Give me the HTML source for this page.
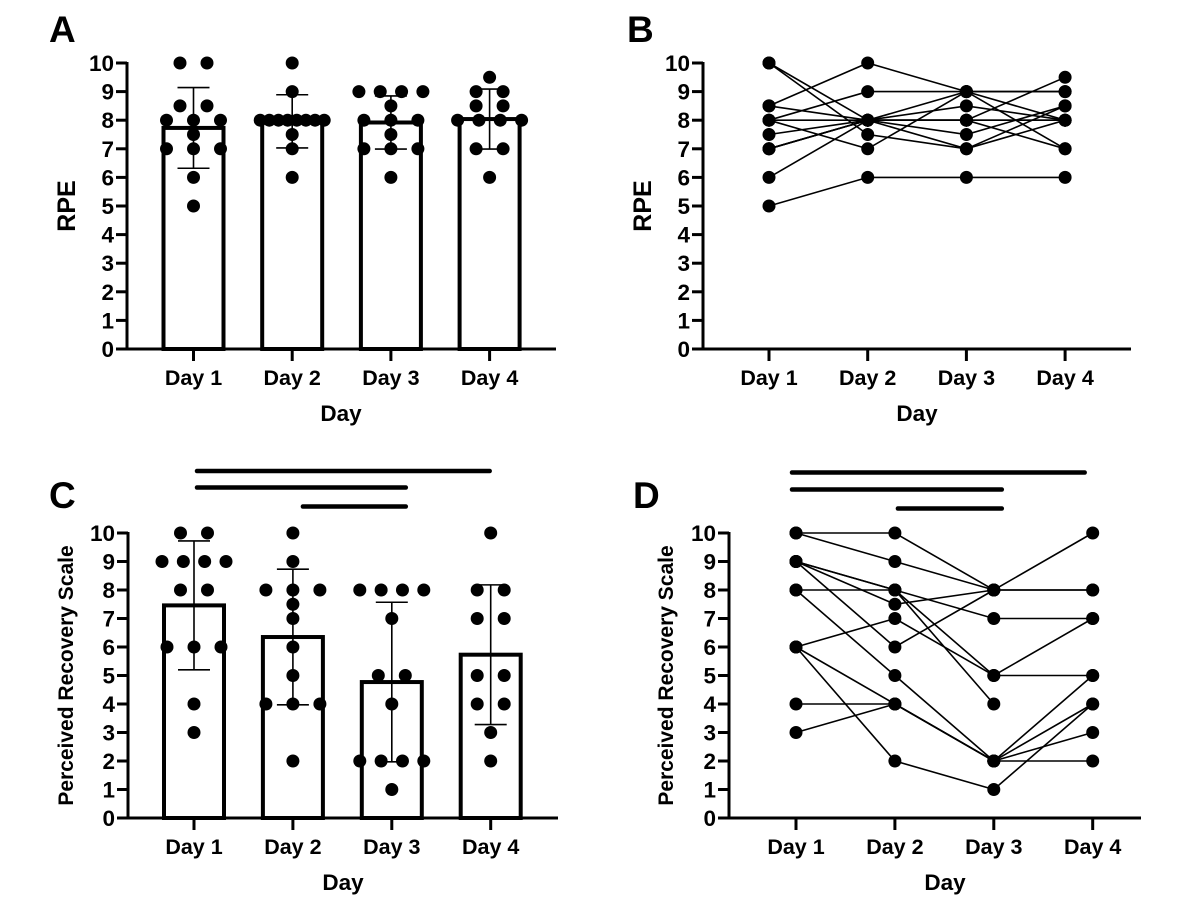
<!DOCTYPE html>
<html><head><meta charset="utf-8"><style>
html,body{margin:0;padding:0;background:#fff;}
svg{display:block;font-family:"Liberation Sans",Arial,sans-serif;font-weight:bold;}
</style></head><body>
<svg id="fig" width="1191" height="908" viewBox="0 0 1191 908"></svg>
<script>
const categories = ["Day 1","Day 2","Day 3","Day 4"];
const yTicks = [0,1,2,3,4,5,6,7,8,9,10];
// Panel A (RPE bar + points)
const rpeMeans = [7.73, 7.96, 7.92, 8.04];
const rpeSD = [1.41, 0.93, 0.93, 1.05];
const rpeD1 = [10,10,8.5,8.5,8,8,8,7.5,7,7,7,6,5];
const rpeD2 = [10,9,8,8,8,8,8,8,8,8,7.5,7,6];
const rpeD3 = [9,9,9,9,8.5,8,8,8,7.5,7,7,7,6];
const rpeD4 = [9.5,9,9,8.5,8.5,8,8,8,8,7,7,6];
// Panel B (RPE per subject across days)
const rpeSubjects = [
 [5,6,6,6],[10,7.5,7,8.5],[10,8,8.5,8],[8.5,10,9,8],[8,9,9,9],[6,8,8,9.5],
 [8.5,8,8,7],[8,8,7.5,8.5],[8,7,9,9],[7.5,8,7,8],[7,8,8,8],[7,8,9,7],[7,8,8,8]
];
// Panel C (recovery bar + points)
const recMeans = [7.46, 6.35, 4.77, 5.73];
const recSD = [2.26, 2.38, 2.8, 2.45];
const recD1 = [10,10,9,9,9,9,8,8,6,6,6,4,3];
const recD2 = [10,9,8,8,8,7.5,7,6,5,4,4,4,2];
const recD3 = [8,8,8,8,7,5,5,4,2,2,2,2,1];
const recD4 = [10,8,8,7,7,5,5,4,4,3,2];
// Panel D (recovery per subject)
const recSubjects = [
 [10,10,8,10],[10,9,8,8],[9,8,5,7],[9,7.5,8,8],[8,8,7,7],[9,6,8,null],[6,7,5,5],
 [9,8,4,null],[8,5,2,4],[6,4,2,3],[6,2,1,4],[4,4,2,5],[3,4,2,2]
];
// significance bars [fromIndex, toIndex]
const sigPairs = [[0,3],[0,2],[1,2]];

const NS="http://www.w3.org/2000/svg";
const svg=document.getElementById('fig');
function mk(tag,attrs,parent){const e=document.createElementNS(NS,tag);for(const k in attrs)e.setAttribute(k,attrs[k]);(parent||svg).appendChild(e);return e;}
function txt(s,attrs,parent){const t=mk('text',attrs,parent);t.textContent=s;return t;}

function panel(cfg){
  const g=mk('g',{});
  
  
  const y=v=>cfg.y0-(cfg.y0-cfg.y10)*v/10;
  const x=i=>cfg.cx0+i*cfg.dx;
  const L=txt(cfg.letter,{x:cfg.lx,y:cfg.ly,'font-size':37,fill:'#000'},g);
  
  
  if(cfg.means){
    cfg.means.forEach((m,i)=>{
      const r=mk('rect',{x:x(i)-30,y:y(m),width:60,height:cfg.y0-y(m),fill:'#fff',stroke:'#000','stroke-width':4},g);
      
      
    });
  }
  if(cfg.points){
    cfg.points.forEach((arr,i)=>{
      const groups={};arr.forEach(v=>{groups[v]=(groups[v]||0)+1;});
      for(const v in groups){
        const n=groups[v];const sp=n>1?Math.min(27,64/(n-1)):0;
        for(let k=0;k<n;k++){
          const c=mk('circle',{cx:x(i)+(k-(n-1)/2)*sp,cy:y(+v),r:6.5,fill:'#000'},g);
          
          
        }
      }
    });
  }
  if(cfg.means){
    cfg.means.forEach((m,i)=>{
      const hi=y(m+cfg.sd[i]),lo=y(m-cfg.sd[i]);
      const e=mk('path',{d:`M${x(i)},${hi}V${lo}M${x(i)-16},${hi}H${x(i)+16}M${x(i)-16},${lo}H${x(i)+16}`,stroke:'#000','stroke-width':1.6,fill:'none'},g);
      
      
    });
  }
  if(cfg.subjects){
    cfg.subjects.forEach(s=>{
      let d='';s.forEach((v,i)=>{if(v===null)return;d+=(d?'L':'M')+x(i)+','+y(v);});
      const p=mk('path',{d:d,stroke:'#000','stroke-width':1.6,fill:'none'},g);
      
      
    });
    cfg.subjects.forEach(s=>{s.forEach((v,i)=>{if(v===null)return;
      const c=mk('circle',{cx:x(i),cy:y(v),r:6.5,fill:'#000'},g);
      
      
    });});
  }
  const ya=mk('path',{d:`M${cfg.ax},${cfg.y10-1}V${cfg.y0}`,stroke:'#000','stroke-width':3,fill:'none'},g);
  
  
  const xa=mk('path',{d:`M${cfg.ax-11},${cfg.y0}H${cfg.xend}`,stroke:'#000','stroke-width':3,fill:'none'},g);
  
  
  yTicks.forEach(t=>{
    mk('path',{d:`M${cfg.ax-11},${y(t)}H${cfg.ax}`,stroke:'#000','stroke-width':3},g);
    const tl=txt(String(t),{x:cfg.ax-13,y:y(t)+8,'font-size':22.5,'text-anchor':'end'},g);
    
    
  });
  categories.forEach((c,i)=>{
    mk('path',{d:`M${x(i)},${cfg.y0}V${cfg.y0+12}`,stroke:'#000','stroke-width':3},g);
    const tl=txt(c,{x:x(i),y:cfg.y0+36,'font-size':21.5,'text-anchor':'middle'},g);
    
    
  });
  const xt=txt('Day',{x:cfg.xtx,y:cfg.y0+72,'font-size':22.5,'text-anchor':'middle'},g);
  
  
  const yl=txt(cfg.ytitle,{x:0,y:0,'font-size':cfg.ytfs,'text-anchor':'middle',transform:`translate(${cfg.ytx},${(cfg.y0+cfg.y10)/2}) rotate(-90)`},g);
  
  
  if(cfg.sig){
    sigPairs.forEach((p,k)=>{
      const b=mk('path',{d:`M${x(p[0])+cfg.sigPad[k][0]},${cfg.sigY[k]}H${x(p[1])+cfg.sigPad[k][1]}`,stroke:'#000','stroke-width':4.5,'stroke-linecap':'round'},g);
      
      
    });
  }
}

panel({name:'panel-a',letter:'A',lx:49,ly:42,ax:127,y10:63,y0:349,cx0:193.5,dx:98.7,xend:556,
  means:rpeMeans,sd:rpeSD,points:[rpeD1,rpeD2,rpeD3,rpeD4],ytitle:'RPE',ytfs:25,ytx:75,xtx:341});
panel({name:'panel-b',letter:'B',lx:627,ly:42,ax:703,y10:63,y0:349,cx0:769,dx:98.7,xend:1131,
  subjects:rpeSubjects,ytitle:'RPE',ytfs:25,ytx:651,xtx:917});
panel({name:'panel-c',letter:'C',lx:49,ly:508,ax:128,y10:533,y0:818,cx0:194,dx:98.9,xend:558,
  means:recMeans,sd:recSD,points:[recD1,recD2,recD3,recD4],ytitle:'Perceived Recovery Scale',ytfs:21,ytx:73,xtx:343,
  sig:true,sigY:[471,487.5,506.5],sigPad:[[3,-1],[3,14],[10,14]]});
panel({name:'panel-d',letter:'D',lx:633,ly:508,ax:729,y10:533,y0:818,cx0:796,dx:98.9,xend:1141,
  subjects:recSubjects,ytitle:'Perceived Recovery Scale',ytfs:21,ytx:673,xtx:945,
  sig:true,sigY:[472.5,489.5,508.5],sigPad:[[-4,-8],[-4,8],[3,8]]});
</script>
</body></html>
